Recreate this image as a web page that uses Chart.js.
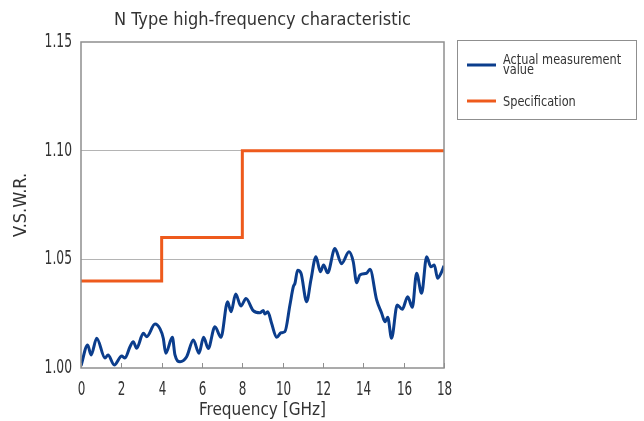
<!DOCTYPE html>
<html>
<head>
<meta charset="utf-8">
<script src="https://cdn.jsdelivr.net/npm/chart.js@4"></script>
<style>
  body { margin: 0; background: #fff; }
</style>
</head>
<body>
<canvas id="chart" width="644" height="421"></canvas>
<script>
const freqGHz = [0, 0.33, 0.5, 0.78, 1.19, 1.34, 1.65, 2.02, 2.18, 2.43, 2.59, 2.76, 3.09, 3.26, 3.67, 3.92,
    4.08, 4.2, 4.53, 4.66, 4.91, 5.24, 5.57, 5.85, 6.08, 6.31, 6.64, 6.94, 7.27, 7.44, 7.67, 7.93,
    8.18, 8.54, 8.87, 9.04, 9.12, 9.26, 9.45, 9.7, 9.92, 10.11, 10.36, 10.53, 10.61, 10.74, 10.91, 11.19,
    11.4, 11.65, 11.87, 12.03, 12.23, 12.59, 12.92, 13.29, 13.5, 13.67, 13.83, 14.16, 14.33, 14.66, 14.91, 15.07,
    15.21, 15.4, 15.68, 15.93, 16.2, 16.43, 16.64, 16.89, 17.14, 17.35, 17.52, 17.68, 17.85, 18];
const vswr = [1.001, 1.0106, 1.006, 1.0137, 1.0046, 1.006, 1.0014, 1.0055, 1.0046, 1.0098, 1.0121, 1.0091, 1.016, 1.0144, 1.0202, 1.018,
    1.0137, 1.0068, 1.0141, 1.006, 1.0029, 1.0052, 1.0129, 1.0068, 1.0142, 1.009, 1.019, 1.0141, 1.0305, 1.0259, 1.034, 1.0285,
    1.032, 1.0264, 1.0254, 1.0264, 1.0248, 1.0259, 1.0206, 1.0141, 1.0162, 1.0167, 1.029, 1.0374, 1.039, 1.045, 1.0436, 1.0305,
    1.0405, 1.0512, 1.0443, 1.0474, 1.0438, 1.055, 1.048, 1.0535, 1.0489, 1.0392, 1.0428, 1.0436, 1.0454, 1.0313, 1.0252, 1.0213,
    1.0233, 1.0137, 1.029, 1.027, 1.0328, 1.0279, 1.0436, 1.0344, 1.0512, 1.0466, 1.0474, 1.0413, 1.0436, 1.047];

// specification limit (steps)
const specFreq = [0, 4, 8, 18];
const specVswr = [1.04, 1.06, 1.10, 1.10];

const seriesNames = [['Actual measurement', 'value'], ['Specification']];
const titleText = 'N Type high-frequency characteristic';

const FONT = "'DejaVu Sans Condensed', 'DejaVu Sans', sans-serif";
const TEXT = '#333';
const BLUE = '#0b3d8c';
const ORANGE = '#ee5a1c';
const FRAME = '#8f8f8f';

// text squeezed horizontally, the reference uses a narrow face
function narrowText(ctx, s, x, y, size, sx, align) {
    ctx.save();
    ctx.font = size + 'px ' + FONT;
    ctx.fillStyle = TEXT;
    ctx.textAlign = align;
    ctx.textBaseline = 'middle';
    ctx.translate(x, y);
    ctx.scale(sx, 1);
    ctx.fillText(s, 0, 0);
    ctx.restore();
}

// frame, inward ticks on x, tick labels, title
const framePlugin = {
    id: 'frame',
    afterDraw(chart) {
        const { ctx, chartArea: a, scales } = chart;
        ctx.save();
        ctx.strokeStyle = FRAME;
        ctx.lineWidth = 1.5;
        ctx.strokeRect(a.left, a.top, a.right - a.left, a.bottom - a.top);
        ctx.lineWidth = 1;
        scales.x.ticks.forEach(t => {
            const px = Math.round(scales.x.getPixelForValue(t.value)) + 0.5;
            ctx.beginPath();
            ctx.moveTo(px, a.bottom);
            ctx.lineTo(px, a.bottom - 5);
            ctx.stroke();
            narrowText(ctx, String(t.value), px, a.bottom + 22, 19, 0.7, 'center');
        });
        scales.y.ticks.forEach(t => {
            const py = scales.y.getPixelForValue(t.value);
            narrowText(ctx, t.value.toFixed(2), a.left - 9, py, 19, 0.72, 'right');
        });
        ctx.restore();
        narrowText(ctx, titleText, (a.left + a.right) / 2, 20, 18, 1, 'center');
    }
};

// boxed legend at the right
const legendPlugin = {
    id: 'boxLegend',
    afterDraw(chart) {
        const { ctx } = chart;
        ctx.save();
        ctx.strokeStyle = FRAME;
        ctx.lineWidth = 1;
        ctx.strokeRect(457.5, 40.5, 179, 79);
        const rows = [65, 101];
        chart.data.datasets.forEach((ds, i) => {
            const y = rows[i];
            ctx.strokeStyle = ds.borderColor;
            ctx.lineWidth = 3;
            ctx.beginPath();
            ctx.moveTo(467, y);
            ctx.lineTo(496, y);
            ctx.stroke();
            const lines = seriesNames[i];
            lines.forEach((s, j) => {
                const off = lines.length > 1 ? (j === 0 ? -5 : 5.5) : 1;
                narrowText(ctx, s, 503, y + off, 14, 0.9, 'left');
            });
        });
        ctx.restore();
    }
};

new Chart(document.getElementById('chart').getContext('2d'), {
    type: 'line',
    data: {
        datasets: [{
            label: seriesNames[0].join(' '),
            data: freqGHz.map((f, i) => ({ x: f, y: vswr[i] })),
            borderColor: BLUE,
            borderWidth: 3,
            pointRadius: 0,
            cubicInterpolationMode: 'monotone',
            fill: false
        }, {
            label: seriesNames[1][0],
            data: specFreq.map((f, i) => ({ x: f, y: specVswr[i] })),
            borderColor: ORANGE,
            borderWidth: 3,
            pointRadius: 0,
            stepped: 'before',
            fill: false
        }]
    },
    options: {
        responsive: false,
        animation: false,
        devicePixelRatio: 1,
        layout: { padding: { top: 42, right: 200, left: 0, bottom: 0 } },
        plugins: {
            legend: { display: false },
            title: { display: false },
            tooltip: { enabled: false }
        },
        scales: {
            x: {
                type: 'linear',
                min: 0,
                max: 18,
                ticks: { stepSize: 2, display: false },
                grid: { display: false },
                border: { display: false },
                title: { display: true, text: 'Frequency [GHz]', color: TEXT, padding: { top: 0, bottom: 0 }, font: { family: FONT, size: 17 } },
                afterFit(scale) { scale.height = 53; }
            },
            y: {
                min: 1.0,
                max: 1.15,
                ticks: { stepSize: 0.05, display: false },
                grid: {
                    drawTicks: false,
                    color: ctx => (ctx.tick && (Math.abs(ctx.tick.value - 1.05) < 1e-9 || Math.abs(ctx.tick.value - 1.1) < 1e-9)) ? '#b4b4b4' : 'rgba(0,0,0,0)'
                },
                border: { display: false },
                title: { display: true, text: 'V.S.W.R.', color: TEXT, padding: { top: 11, bottom: 0 }, font: { family: FONT, size: 18 } },
                afterFit(scale) { scale.width = 81; }
            }
        }
    },
    plugins: [framePlugin, legendPlugin]
});
</script>
</body>
</html>
